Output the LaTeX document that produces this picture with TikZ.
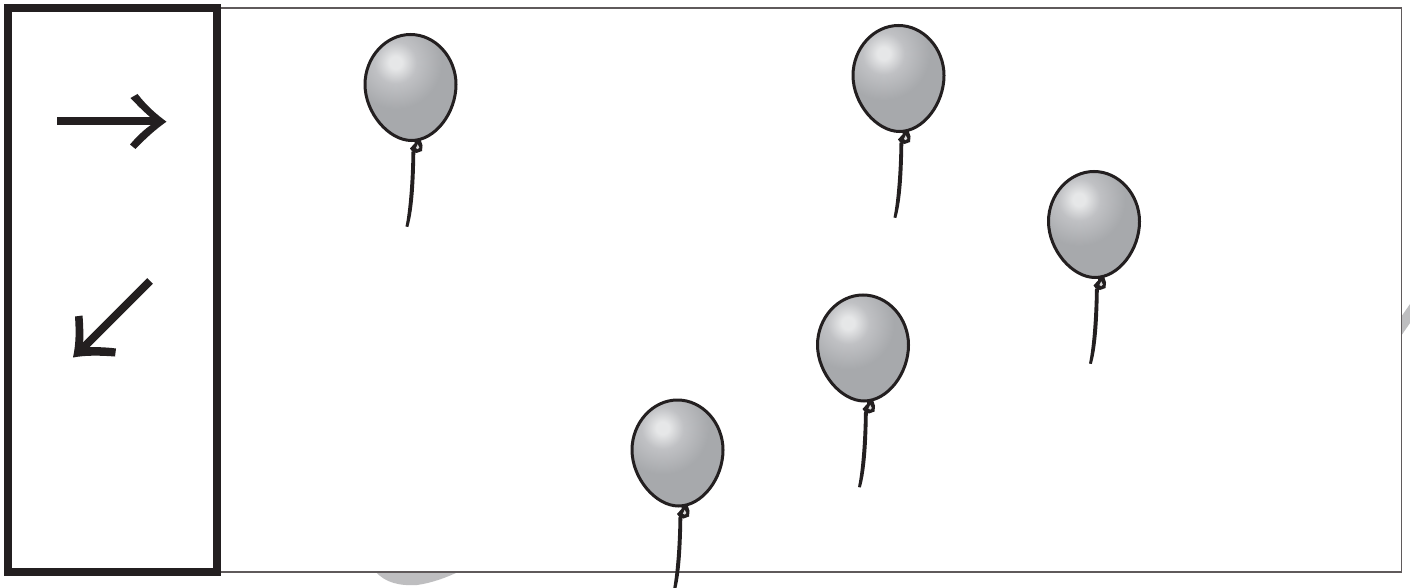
\documentclass[tikz,border=0pt]{standalone}
\definecolor{bhi}{HTML}{E6E7E8}
\definecolor{bmid}{HTML}{C0C1C4}
\definecolor{bbody}{HTML}{A7A9AC}
\definecolor{bedge}{HTML}{77787B}
\definecolor{bbase}{HTML}{939598}
\pgfdeclareradialshading{balloonsh}{\pgfpoint{0bp}{0bp}}{color(0bp)=(bhi); color(1.5bp)=(bhi); color(5bp)=(bmid); color(11bp)=(bbody); color(26bp)=(bbody); color(36bp)=(bbase); color(50bp)=(bedge)}
\definecolor{ink}{HTML}{231F20}
\definecolor{frameline}{HTML}{5F5A5B}
\definecolor{swoosh}{HTML}{BEBEC0}
\tikzset{
  balloonline/.style={draw=ink,line width=3pt},
  thickframe/.style={draw=ink,line width=8pt},
  thinframe/.style={draw=frameline,line width=1.6pt},
  arrowstroke/.style={draw=ink,line width=8pt},
  inkfill/.style={fill=ink,draw=none},
  swooshfill/.style={fill=swoosh,draw=none}
}
\newcommand{\balloonoutline}{(0,-53) .. controls (25,-53) and (45.5,-30) .. (45.5,-3) .. controls (45.5,25) and (25,53) .. (1,53) .. controls (-22,53) and (-45.5,25) .. (-45.5,-3) .. controls (-45.5,-30) and (-25,-53) .. (0,-53) -- cycle}
\begin{document}
\begin{tikzpicture}[x=1pt,y=-1pt]
\useasboundingbox[fill=white] (0,0) rectangle (1410,588);
% grey swooshes behind the frame
\path[swooshfill] (375,571) .. controls (385,583) and (400,586) .. (417,585) .. controls (432,583) and (448,577) .. (460,571) -- cycle;
\path[swooshfill] (1401,317) -- (1410,304) -- (1410,323) -- (1401,336) -- cycle;
% frame
\path[fill=white,thinframe] (218,8) rectangle (1401.5,572);
\path[fill=white,thickframe] (7.8,8.3) rectangle (217,572);
% balloons
\foreach \cx/\cy in {410.5/87.5,898.5/78.5,1094/224.5,863/348,677.5/453}{
\begin{scope}[shift={(\cx,\cy)}]
  \begin{scope}
    \clip \balloonoutline;
    \shade[shading=balloonsh] (-15,-25) circle (105);
  \end{scope}
  \path[balloonline] \balloonoutline;
  \path[inkfill] (4,52) -- (10,52) -- (12,58) -- (11.5,63.5) -- (6,65.5) .. controls (3,65) and (0,63.5) .. (-0.5,61) -- (4,56) -- cycle;
  \path[fill=white!72!gray] (7.2,56.8) -- (8.8,60) -- (7.4,61.6) -- (5.4,60.6) -- cycle;
  \path[inkfill] (4.8,64) .. controls (4.4,90) and (3.4,120) .. (-2.2,139.5) -- (-5,139) .. controls (-1.5,122) and (0.7,90) .. (1,64) -- cycle;
\end{scope}}
% arrows
\path[arrowstroke] (57,121.5) -- (160,121.5);
\path[inkfill] (137.5,94) .. controls (147,106) and (156,114) .. (166.5,121.7) .. controls (156,129) and (146,138) .. (135.5,149) -- (130,144.5) .. controls (139,134) and (147,127) .. (156,121.7) .. controls (147,115) and (139,107) .. (130.5,98) -- cycle;
\path[arrowstroke] (150,281) -- (82,349);
\path[inkfill] (73,357.5) .. controls (86,355) and (101,355.5) .. (115,356.5) -- (116,348.5) .. controls (105,347) and (94,347) .. (83,347) .. controls (83.5,337) and (83.5,327) .. (82.5,315.5) -- (75,316.5) .. controls (76,331) and (76,344) .. (73,357.5) -- cycle;
\end{tikzpicture}
\end{document}
